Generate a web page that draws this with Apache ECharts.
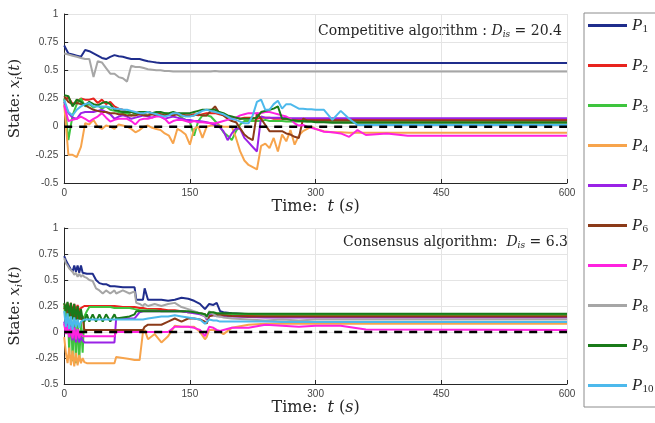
<!DOCTYPE html>
<html><head><meta charset="utf-8">
<script src="https://cdn.jsdelivr.net/npm/echarts@6.0.0/dist/echarts.min.js"></script>
<style>html,body{margin:0;padding:0;background:#fff}#c{width:655px;height:423px}</style>
</head><body><div id="c"></div>
<script>
// ---------- data ----------
const names = ['P1','P2','P3','P4','P5','P6','P7','P8','P9','P10'];
const colors = ['#1f2d8c','#e8231e','#3ec43e','#f7a44c','#9a22e6','#8b3a18','#ff22e0','#a6a6a6','#197a19','#4db9ec'];
const xTicks = [0,150,300,450,600];
const yTicks = [-0.5,-0.25,0,0.25,0.5,0.75,1];

// top panel (competitive)
const tTop = [0,5,10,15,20,25,30,35,40,45,50,55,60,65,70,75,80,85,90,95,100,105,110,115,120,125,130,135,140,145,150,155,160,165,170,175,180,185,190,195,200,205,210,215,220,225,230,235,240,245,250,255,260,265,270,275,280,285,290,295,300,310,320,330,340,350,360,385,410,600];
const p1Top = [0.72,0.65,0.64,0.63,0.62,0.68,0.67,0.65,0.63,0.61, 0.60,0.62,0.635,0.625,0.62,0.61,0.60,0.60,0.60,0.59, 0.58,0.575,0.57,0.566,0.565,0.565,0.565,0.565,0.565,0.565, 0.565,0.565,0.565,0.565,0.565,0.565,0.565,0.565,0.565,0.565, 0.565,0.565,0.565,0.565,0.565,0.565,0.565,0.565,0.565,0.565, 0.565,0.565,0.565,0.565,0.565,0.565,0.565,0.565,0.565,0.565, 0.565, 0.565,0.565,0.565,0.565,0.565,0.565,0.565,0.565,0.565];
const p2Top = [0.24,0.26,0.20,0.22,0.25,0.24,0.24,0.25,0.21,0.24, 0.20,0.22,0.18,0.16,0.15,0.13,0.10,0.12,0.13,0.12, 0.13,0.12,0.12,0.11,0.10,0.11,0.12,0.12,0.11,0.10, 0.10,0.11,0.10,0.11,0.12,0.12,0.12,0.11,0.10,0.09, 0.08,0.08,0.07,0.08,0.08,0.08,0.07,0.08,0.08,0.08, 0.07,0.07,0.07,0.065,0.065,0.065,0.065,0.065,0.065,0.065, 0.065, 0.065,0.065,0.065,0.065,0.065,0.065,0.065,0.065,0.065];
const p3Top = [0.25,-0.12,0.10,0.20,0.25,0.18,0.20,0.17,0.19,0.16, 0.18,0.15,0.14,0.13,0.12,0.12,0.10,0.11,0.12,0.11, 0.10,0.12,0.11,0.10,0.12,0.11,0.12,0.11,0.08,0.06, 0.04,-0.08,0.05,0.10,0.10,0.09,0.05,0.01,-0.05,-0.08, -0.12,-0.04,0.02,0.05,0.05,0.05,0.05,0.05,0.06,0.05, 0.05,0.05,0.05,0.045,0.045,0.045,0.045,0.045,0.045,0.045, 0.045, 0.045,0.045,0.045,0.045,0.045,0.045,0.045,0.045,0.045];
const p4Top = [0.20,-0.25,-0.25,-0.27,-0.18,0.03,0.02,0.06,0.00,-0.02, 0.01,0.00,-0.02,0.02,0.01,0.00,-0.02,-0.05,-0.03,0.00, 0.01,-0.01,-0.02,-0.03,-0.06,-0.08,-0.15,-0.02,-0.04,-0.07, -0.16,-0.02,0.00,-0.10,0.00,0.01,0.01,0.01,0.00,0.00, 0.00,-0.10,-0.22,-0.30,-0.34,-0.36,-0.38,-0.17,-0.15,-0.19, -0.10,-0.22,-0.07,-0.13,-0.03,-0.16,-0.08,-0.04,-0.02,0.00, -0.02, -0.04,-0.05,-0.05,-0.055,-0.055,-0.055,-0.055,-0.055,-0.055];
const p5Top = [0.22,0.12,0.08,0.07,0.12,0.13,0.13,0.13,0.14,0.15, 0.13,0.11,0.07,0.09,0.10,0.09,0.07,0.08,0.09,0.10, 0.09,0.08,0.10,0.09,0.07,0.08,0.09,0.08,0.07,0.06, 0.06,0.05,0.05,0.045,0.04,0.03,0.015,0.00,-0.04,-0.12, -0.06,-0.015,-0.02,-0.10,-0.14,-0.18,-0.22,0.09,0.08,0.08, 0.08,0.08,0.08,0.08,0.075,0.075,0.075,0.075,0.075,0.075, 0.075, 0.075,0.075,0.075,0.075,0.075,0.075,0.075,0.075,0.075];
const p6Top = [0.27,0.22,0.20,0.21,0.20,0.19,0.17,0.15,0.14,0.13, 0.13,0.12,0.12,0.11,0.11,0.10,0.10,0.10,0.11,0.10, 0.10,0.11,0.10,0.11,0.10,0.11,0.10,0.11,0.10,0.10, 0.10,0.10,0.11,0.10,0.10,0.14,0.18,0.12,0.10,0.07, 0.05,0.04,-0.015,-0.07,-0.10,-0.12,0.12,0.07,0.015,-0.04, -0.04,-0.04,-0.04,-0.06,-0.07,-0.09,-0.10,0.07,0.055,0.055, 0.055, 0.055,0.055,0.055,0.055,0.055,0.055,0.055,0.055,0.055];
const p7Top = [0.19,0.05,0.06,0.07,0.09,0.07,0.045,0.07,0.09,0.12, 0.08,0.045,0.06,0.07,0.07,0.07,0.05,0.02,0.06,0.07, 0.07,0.08,0.09,0.09,0.07,0.03,0.05,0.06,0.06,0.05, 0.04,0.05,0.04,0.04,0.035,0.03,0.03,0.04,0.05,0.06, 0.07,0.08,0.10,0.11,0.12,0.12,0.12,0.12,0.13,0.13, 0.12,0.11,0.10,0.09,0.07,0.03,0.01,0.015,0.00,-0.01, -0.02, -0.045,-0.05,-0.06,-0.09,-0.03,-0.074,-0.06,-0.08,-0.08];
const p8Top = [0.65,0.64,0.63,0.62,0.61,0.60,0.60,0.44,0.58,0.57, 0.52,0.47,0.47,0.44,0.43,0.40,0.54,0.53,0.53,0.52, 0.51,0.505,0.50,0.50,0.495,0.495,0.49,0.49,0.49,0.49, 0.49,0.49,0.49,0.49,0.49,0.49,0.495,0.49,0.49,0.49, 0.49,0.49,0.49,0.49,0.49,0.49,0.49,0.49,0.49,0.49, 0.49,0.49,0.49,0.49,0.49,0.49,0.49,0.49,0.49,0.49, 0.49, 0.49,0.49,0.49,0.49,0.49,0.49,0.49,0.49,0.49];
const p9Top = [0.28,0.27,0.18,0.24,0.22,0.19,0.22,0.20,0.19,0.21, 0.22,0.20,0.15,0.14,0.13,0.13,0.13,0.12,0.13,0.13, 0.13,0.12,0.13,0.13,0.12,0.12,0.13,0.12,0.12,0.12, 0.12,0.13,0.14,0.15,0.15,0.15,0.15,0.13,0.12,0.10, 0.09,0.08,0.07,0.07,0.07,0.07,0.08,0.13,0.14,0.15, 0.16,0.18,0.07,0.07,0.06,0.055,0.05,0.05,0.045,0.045, 0.04, 0.04,0.035,0.035,0.035,0.035,0.035,0.035,0.035,0.035];
const p10Top = [0.24,0.13,0.10,0.15,0.18,0.20,0.21,0.18,0.18,0.18, 0.18,0.17,0.16,0.16,0.15,0.15,0.14,0.13,0.12,0.12, 0.13,0.12,0.11,0.10,0.09,0.10,0.12,0.12,0.10,0.09, 0.09,0.10,0.12,0.14,0.15,0.14,0.13,0.12,0.11,0.09, 0.07,0.06,0.045,0.03,0.03,0.10,0.22,0.24,0.15,0.15, 0.20,0.23,0.16,0.20,0.20,0.18,0.16,0.16,0.155,0.155, 0.15, 0.15,0.06,0.14,0.07,0.015,0.015,0.015,0.015,0.015];

// bottom panel (consensus)
const tBot = [0,2,4,6,8,10,12,14,16,18, 20,22,24,27,30,34,38,42,46,50, 55,60,62,70,78,84,86,90,94,96, 100,108,116,124,132,140,148,155,162,168, 170,173,178,182,186,190,200,220,240,260, 280,300,330,360,600];
const p1Bot = [0.73,0.69,0.66,0.63,0.60,0.58,0.64,0.58,0.64,0.57, 0.64,0.57,0.56,0.56,0.56,0.56,0.50,0.47,0.46,0.46, 0.44,0.44,0.44,0.43,0.43,0.43,0.31,0.31,0.31,0.42, 0.31,0.31,0.31,0.30,0.31,0.33,0.32,0.30,0.27,0.22, 0.21,0.27,0.26,0.28,0.20,0.19,0.18,0.17,0.165,0.16, 0.155,0.15,0.15,0.15,0.15];
const p2Bot = [0.27,0.22,0.28,0.20,0.28,0.19,0.27,0.20,0.26,0.20, 0.23,0.22,0.25,0.25,0.25,0.25,0.25,0.25,0.25,0.25, 0.25,0.25,0.24,0.24,0.24,0.24,0.23,0.23,0.23,0.22, 0.22,0.22,0.22,0.21,0.21,0.20,0.19,0.19,0.18,0.17, 0.15,0.18,0.18,0.17,0.17,0.165,0.16,0.16,0.155,0.155, 0.155,0.155,0.155,0.155,0.155];
const p3Bot = [0.25,0.10,0.27,-0.20,0.25,-0.28,0.20,-0.30,0.15,-0.28, 0.10,-0.20,0.15,0.20,0.24,0.24,0.24,0.24,0.24,0.24, 0.24,0.23,0.23,0.23,0.23,0.22,0.22,0.21,0.21,0.21, 0.21,0.21,0.20,0.20,0.20,0.20,0.19,0.19,0.18,0.17, 0.15,0.18,0.18,0.17,0.17,0.17,0.17,0.17,0.165,0.165, 0.165,0.165,0.165,0.165,0.165];
const p4Bot = [-0.05,-0.20,-0.30,-0.15,-0.32,-0.18,-0.33,-0.20,-0.32,-0.22, -0.30,-0.25,-0.29,-0.30,-0.30,-0.30,-0.30,-0.30,-0.30,-0.30, -0.30,-0.30,-0.24,-0.25,-0.26,-0.27,-0.27,-0.27,0.00,0.02, -0.07,-0.02,-0.10,-0.04,0.06,0.05,0.05,0.05,0.00,-0.07, -0.05,0.02,0.02,0.01,0.00,-0.02,0.04,0.07,0.08,0.08, 0.08,0.08,0.08,0.08,0.08];
const p5Bot = [0.10,0.00,0.08,-0.05,0.06,-0.08,0.05,-0.10,0.02,-0.10, -0.05,-0.08,-0.10,-0.10,-0.10,-0.10,-0.10,-0.10,-0.10,-0.10, -0.10,-0.10,0.13,0.13,0.13,0.13,0.15,0.19,0.20,0.20, 0.20,0.20,0.20,0.20,0.20,0.20,0.19,0.18,0.17,0.15, 0.12,0.16,0.16,0.155,0.15,0.15,0.15,0.145,0.14,0.14, 0.14,0.14,0.14,0.14,0.14];
const p6Bot = [0.22,0.26,0.18,0.25,0.15,0.24,0.14,0.22,0.12,0.20, 0.12,0.15,0.02,0.02,0.02,0.02,0.02,0.02,0.02,0.02, 0.02,0.02,0.02,0.02,0.02,0.02,0.02,0.02,0.02,0.05, 0.07,0.07,0.07,0.10,0.13,0.10,0.13,0.13,0.12,0.10, 0.08,0.15,0.16,0.16,0.16,0.16,0.155,0.15,0.15,0.15, 0.15,0.15,0.15,0.15,0.15];
const p7Bot = [0.08,-0.02,0.06,-0.05,0.05,-0.06,0.04,-0.07,0.03,-0.06, 0.00,-0.04,-0.04,-0.04,-0.04,-0.04,-0.04,-0.04,-0.04,-0.04, -0.04,-0.04,0.00,0.00,0.00,0.00,0.00,0.00,0.00,0.00, 0.00,0.00,0.00,0.00,0.05,0.05,0.05,0.04,0.02,-0.04, -0.03,0.05,0.04,0.02,0.01,0.02,0.04,0.04,0.07,0.06, 0.05,0.06,0.06,0.025,0.02];
const p8Bot = [0.71,0.66,0.64,0.61,0.60,0.58,0.55,0.57,0.53,0.56, 0.53,0.55,0.53,0.52,0.50,0.49,0.42,0.40,0.37,0.40, 0.37,0.40,0.37,0.40,0.37,0.39,0.28,0.27,0.25,0.27, 0.25,0.27,0.25,0.27,0.28,0.24,0.22,0.20,0.18,0.15, 0.13,0.20,0.17,0.15,0.15,0.14,0.13,0.12,0.11,0.12, 0.11,0.12,0.12,0.12,0.12];
const p9Bot = [0.28,0.20,0.29,0.15,0.28,0.12,0.27,0.12,0.25,0.12, 0.22,0.12,0.10,0.17,0.10,0.17,0.10,0.17,0.10,0.17, 0.10,0.17,0.13,0.14,0.15,0.17,0.20,0.20,0.20,0.20, 0.20,0.20,0.20,0.20,0.20,0.20,0.20,0.19,0.18,0.17, 0.15,0.19,0.19,0.18,0.18,0.18,0.18,0.175,0.175,0.175, 0.175,0.175,0.175,0.175,0.175];
const p10Bot = [0.20,0.05,0.18,0.03,0.15,0.02,0.14,0.05,0.12,0.04, 0.10,0.10,0.12,0.12,0.12,0.12,0.12,0.12,0.12,0.12, 0.12,0.12,0.12,0.12,0.12,0.12,0.12,0.12,0.12,0.13, 0.13,0.14,0.15,0.15,0.16,0.15,0.14,0.13,0.12,0.08, 0.07,0.12,0.11,0.11,0.10,0.10,0.10,0.10,0.10,0.095, 0.095,0.095,0.095,0.095,0.095];

const zeroT = [0,600];
const zeroV = [0,0];

const topValues = [p1Top,p2Top,p3Top,p4Top,p5Top,p6Top,p7Top,p8Top,p9Top,p10Top];
const botValues = [p1Bot,p2Bot,p3Bot,p4Bot,p5Bot,p6Bot,p7Bot,p8Bot,p9Bot,p10Bot];

// ---------- chart ----------
const SERIF = 'Liberation Serif, DejaVu Serif, serif';
const DSERIF = 'DejaVu Serif, serif';
const SANS = 'Liberation Sans, Arial, sans-serif';
const TXT = '#262626';
function pairs(t, v){ return t.map((x,i)=>[x, v[i]]); }
function richFor(fs, fam){
  return {
    n:{fontFamily:fam,fontSize:fs,color:TXT},
    i:{fontFamily:fam,fontSize:fs,fontStyle:'italic',color:TXT},
    s:{fontFamily:fam,fontSize:Math.round(fs*0.65),fontStyle:'italic',color:TXT,padding:[8,0,0,0]}
  };
}
function xAx(idx){
  return {type:'value',gridIndex:idx,min:0,max:600,interval:150,
    axisLine:{show:true,onZero:false,lineStyle:{color:TXT,width:1}},
    axisTick:{show:true,inside:true,length:4,lineStyle:{color:TXT}},
    axisLabel:{fontFamily:SANS,fontSize:10,color:'#444',margin:5},
    splitLine:{show:true,lineStyle:{color:'#e4e4e4',width:1}},
    name:'{n|Time:  }{i|t}{n| (}{i|s}{n|)}',nameLocation:'middle',nameGap:idx?16:15,
    nameTextStyle:{fontFamily:DSERIF,fontSize:16,color:TXT,rich:richFor(16,DSERIF)}};
}
function yAx(idx){
  return {type:'value',gridIndex:idx,min:-0.5,max:1,interval:0.25,
    axisLine:{show:true,onZero:false,lineStyle:{color:TXT,width:1}},
    axisTick:{show:true,inside:true,length:4,lineStyle:{color:TXT}},
    axisLabel:{fontFamily:SANS,fontSize:10,color:'#444',margin:6},
    splitLine:{show:true,lineStyle:{color:'#e4e4e4',width:1}},
    name:'{n|State: }{i|x}{s|i}{n|(}{i|t}{n|)}',nameLocation:'middle',nameGap:37,
    nameTextStyle:{fontFamily:DSERIF,fontSize:15,color:TXT,rich:richFor(15,DSERIF)}};
}
const series = [];
[topValues, botValues].forEach((vals, g) => {
  const t = g ? tBot : tTop;
  vals.forEach((v, k) => {
    series.push({type:'line',name:names[k],xAxisIndex:g,yAxisIndex:g,data:pairs(t,v),
      showSymbol:false,symbol:'none',lineStyle:{width:2,color:colors[k]},itemStyle:{color:colors[k]},
      silent:true,animation:false});
  });
  series.push({type:'line',name:'zero'+g,xAxisIndex:g,yAxisIndex:g,data:pairs(zeroT,zeroV),
    showSymbol:false,symbol:'none',lineStyle:{width:2.5,color:'#000',type:[8,7]},silent:true,animation:false,z:5});
});

function annRich(){
  return {n:{fontFamily:DSERIF,fontSize:14,fill:TXT},
          i:{fontFamily:DSERIF,fontSize:14,fontStyle:'italic',fill:TXT},
          s:{fontFamily:DSERIF,fontSize:9,fontStyle:'italic',fill:TXT,padding:[7,0,0,0]}};
}
const chart = echarts.init(document.getElementById('c'), null, {renderer:'canvas'});
chart.setOption({
  backgroundColor:'#fff',
  animation:false,
  grid:[{left:64,right:88,top:14,height:169},{left:63,right:88,top:228,height:156}],
  xAxis:[xAx(0),xAx(1)],
  yAxis:[yAx(0),yAx(1)],
  legend:{data:names,orient:'vertical',left:584,top:13,padding:[4,40,12,4],itemGap:22,
    itemWidth:39,itemHeight:3,icon:'rect',borderColor:'#8c8c8c',borderWidth:1,
    textStyle:{fontFamily:SERIF,fontSize:17,color:TXT,lineHeight:16,
      rich:{i:{fontFamily:SERIF,fontSize:17,fontStyle:'italic',color:TXT},
            s:{fontFamily:SERIF,fontSize:11,color:TXT,padding:[8,0,0,0]}}},
    formatter:function(n){return '{i|P}{s|'+n.slice(1)+'}';}},
  graphic:[
    {type:'text',x:318,y:31,silent:true,style:{text:'{n|Competitive algorithm : }{i|D}{s|is}{n| = 20.4}',align:'left',verticalAlign:'middle',rich:annRich()}},
    {type:'text',x:343,y:242,silent:true,style:{text:'{n|Consensus algorithm:  }{i|D}{s|is}{n| = 6.3}',align:'left',verticalAlign:'middle',rich:annRich()}}
  ],
  series:series
});
</script></body></html>
